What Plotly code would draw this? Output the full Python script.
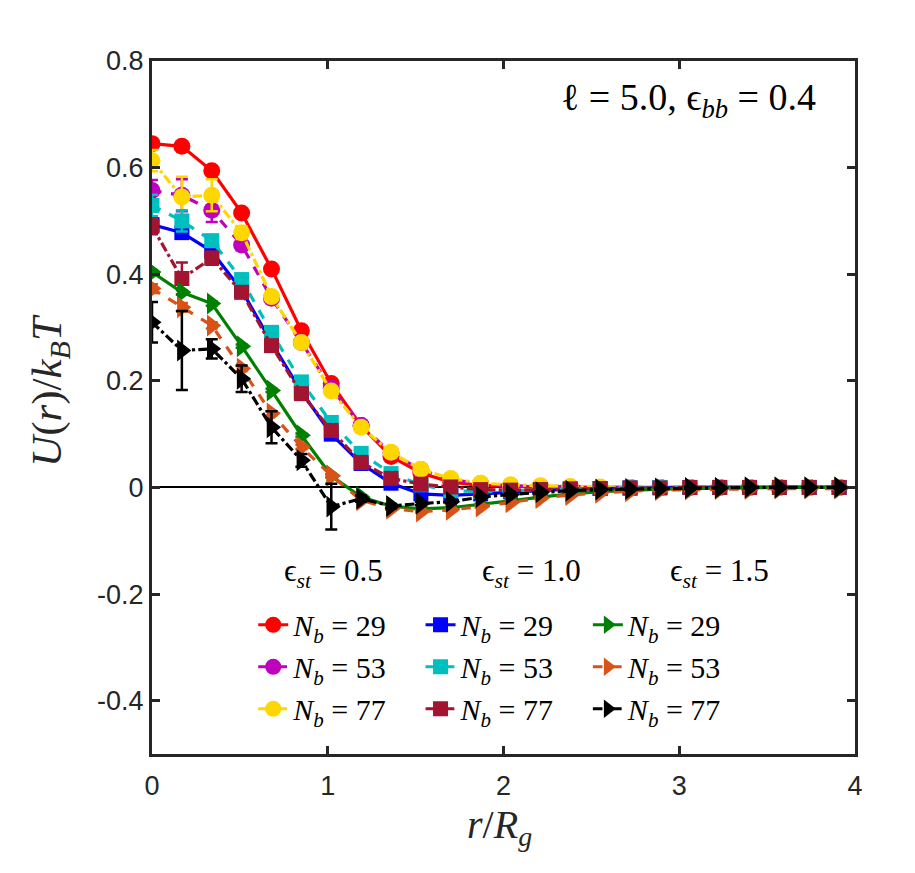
import plotly.graph_objects as go

# ---- data ----
r_over_Rg = [0, 0.17, 0.34, 0.51, 0.68, 0.85, 1.02, 1.19, 1.36, 1.53, 1.70, 1.87,
             2.04, 2.21, 2.38, 2.55, 2.72, 2.89, 3.06, 3.23, 3.40, 3.57, 3.74, 3.91]

# eps_st = 0.5
u_05_29 = [0.645, 0.640, 0.594, 0.515, 0.410, 0.294, 0.195, 0.116, 0.058, 0.027, 0.010, 0.004,
           0.002, 0.001, 0, 0, 0, 0, 0, 0, 0, 0, 0, 0]
u_05_53 = [0.557, 0.548, 0.520, 0.455, 0.355, 0.272, 0.186, 0.116, 0.065, 0.033, 0.015, 0.007,
           0.003, 0.002, 0.001, 0, 0, 0, 0, 0, 0, 0, 0, 0]
u_05_77 = [0.613, 0.545, 0.548, 0.478, 0.358, 0.272, 0.181, 0.113, 0.066, 0.034, 0.017, 0.008,
           0.005, 0.003, 0.002, 0.001, 0, 0, 0, 0, 0, 0, 0, 0]
# eps_st = 1.0
u_10_29 = [0.493, 0.478, 0.443, 0.370, 0.272, 0.180, 0.100, 0.045, 0.008, -0.012, -0.015, -0.012,
           -0.008, -0.005, -0.003, -0.002, -0.001, 0, 0, 0, 0, 0, 0, 0]
u_10_53 = [0.529, 0.500, 0.463, 0.390, 0.291, 0.198, 0.122, 0.064, 0.026, 0.005, -0.006, -0.008,
           -0.006, -0.004, -0.003, -0.002, -0.001, 0, 0, 0, 0, 0, 0, 0]
u_10_77 = [0.490, 0.392, 0.430, 0.366, 0.266, 0.176, 0.107, 0.047, 0.017, 0.006, 0.001, -0.004,
           -0.005, -0.004, -0.003, -0.002, -0.001, -0.001, 0, 0, 0, 0, 0, 0]
# eps_st = 1.5
u_15_29 = [0.404, 0.366, 0.345, 0.265, 0.182, 0.098, 0.022, -0.018, -0.035, -0.040, -0.038, -0.032,
           -0.025, -0.018, -0.012, -0.008, -0.005, -0.003, -0.002, -0.001, 0, 0, 0, 0]
u_15_53 = [0.373, 0.338, 0.304, 0.223, 0.139, 0.076, 0.022, -0.024, -0.040, -0.045, -0.042, -0.036,
           -0.028, -0.020, -0.014, -0.010, -0.007, -0.005, -0.004, -0.003, -0.003, -0.002, -0.002, -0.002]
u_15_77 = [0.310, 0.257, 0.260, 0.204, 0.113, 0.051, -0.036, -0.021, -0.035, -0.030, -0.027, -0.018,
           -0.013, -0.009, -0.006, -0.004, -0.003, -0.002, -0.001, -0.001, 0, 0, 0, 0]

# error bars
e_05_29 = [0.004, 0.004, 0.004, 0.003, 0.003, 0.003, 0.003, 0.002, 0.002, 0.002, 0.002, 0.002,
           0.002, 0.002, 0.002, 0.002, 0.002, 0.002, 0.002, 0.002, 0.002, 0.002, 0.002, 0.002]
e_05_53 = [0.020, 0.030, 0.022, 0.010, 0.006, 0.005, 0.004, 0.003, 0.003, 0.002, 0.002, 0.002,
           0.002, 0.002, 0.002, 0.002, 0.002, 0.002, 0.002, 0.002, 0.002, 0.002, 0.002, 0.002]
e_05_77 = [0.020, 0.038, 0.030, 0.012, 0.008, 0.005, 0.004, 0.003, 0.003, 0.002, 0.002, 0.002,
           0.002, 0.002, 0.002, 0.002, 0.002, 0.002, 0.002, 0.002, 0.002, 0.002, 0.002, 0.002]
e_10_29 = [0.004, 0.004, 0.004, 0.003, 0.003, 0.003, 0.003, 0.002, 0.002, 0.002, 0.002, 0.002,
           0.002, 0.002, 0.002, 0.002, 0.002, 0.002, 0.002, 0.002, 0.002, 0.002, 0.002, 0.002]
e_10_53 = [0.020, 0.020, 0.010, 0.006, 0.005, 0.004, 0.003, 0.003, 0.002, 0.002, 0.002, 0.002,
           0.002, 0.002, 0.002, 0.002, 0.002, 0.002, 0.002, 0.002, 0.002, 0.002, 0.002, 0.002]
e_10_77 = [0.015, 0.030, 0.012, 0.006, 0.005, 0.004, 0.003, 0.003, 0.002, 0.002, 0.002, 0.002,
           0.002, 0.002, 0.002, 0.002, 0.002, 0.002, 0.002, 0.002, 0.002, 0.002, 0.002, 0.002]
e_15_29 = [0.004, 0.004, 0.004, 0.003, 0.003, 0.003, 0.003, 0.002, 0.002, 0.002, 0.002, 0.002,
           0.002, 0.002, 0.002, 0.002, 0.002, 0.002, 0.002, 0.002, 0.002, 0.002, 0.002, 0.002]
e_15_53 = [0.008, 0.008, 0.006, 0.005, 0.004, 0.004, 0.003, 0.003, 0.002, 0.002, 0.002, 0.002,
           0.002, 0.002, 0.002, 0.002, 0.002, 0.002, 0.002, 0.002, 0.002, 0.002, 0.002, 0.002]
e_15_77 = [0.038, 0.074, 0.018, 0.025, 0.030, 0.012, 0.043, 0.006, 0.004, 0.003, 0.003, 0.002,
           0.002, 0.002, 0.002, 0.002, 0.002, 0.002, 0.002, 0.002, 0.002, 0.002, 0.002, 0.002]

eps_headers = ["ϵ<sub><i>st</i></sub> = 0.5", "ϵ<sub><i>st</i></sub> = 1.0", "ϵ<sub><i>st</i></sub> = 1.5"]
nb_labels = ["29", "53", "77"]
y_tickvals = [-0.4, -0.2, 0, 0.2, 0.4, 0.6, 0.8]
y_ticktext = ["-0.4", "-0.2", "0", "0.2", "0.4", "0.6", "0.8"]
x_tickvals = [0, 1, 2, 3, 4]

series = [
    (u_05_29, e_05_29, "#FF0000", "circle", "solid", "legend", "29"),
    (u_05_53, e_05_53, "#BF00BF", "circle", "dash", "legend", "53"),
    (u_05_77, e_05_77, "#FFD700", "circle", "dashdot", "legend", "77"),
    (u_10_29, e_10_29, "#0000FF", "square", "solid", "legend2", "29"),
    (u_10_53, e_10_53, "#00BFBF", "square", "dash", "legend2", "53"),
    (u_10_77, e_10_77, "#A2142F", "square", "dashdot", "legend2", "77"),
    (u_15_29, e_15_29, "#008000", "triangle-right", "solid", "legend3", "29"),
    (u_15_53, e_15_53, "#D95319", "triangle-right", "dash", "legend3", "53"),
    (u_15_77, e_15_77, "#000000", "triangle-right", "dashdot", "legend3", "77"),
]

fig = go.Figure()
for i, (y, e, col, sym, dash, leg, nb) in enumerate(series):
    size = 19 if sym == "triangle-right" else (15 if sym == "square" else 17)
    fig.add_trace(go.Scatter(
        x=r_over_Rg, y=y, mode="lines+markers",
        line=dict(color=col, width=3.2, dash=dash),
        marker=dict(symbol=sym, size=size, color=col, line=dict(width=0)),
        error_y=dict(type="data", array=e, visible=True, color=col, thickness=2.5, width=6),
        name="<i>N</i><sub><i>b</i></sub> = " + nb,
        legend=leg, legendgroup="g%d" % i,
    ))

serif = "Liberation Serif, DejaVu Serif, serif"
axis_common = dict(showline=True, linewidth=3, linecolor="#262626", mirror="ticks",
                   ticks="inside", ticklen=8, tickwidth=2.5, tickcolor="#262626",
                   showgrid=False, tickfont=dict(family="Liberation Sans, Arial, sans-serif",
                                                 size=27, color="#262626"))

fig.update_layout(
    width=915, height=873,
    margin=dict(l=152, r=60, t=61, b=119),
    paper_bgcolor="white", plot_bgcolor="white",
    xaxis=dict(range=[0, 4], tickvals=x_tickvals, zeroline=False,
               ticklabelstandoff=6, **axis_common),
    yaxis=dict(range=[-0.5, 0.8], tickvals=y_tickvals, ticktext=y_ticktext,
               zeroline=True, zerolinecolor="black", zerolinewidth=1.5, **axis_common),
    showlegend=True,
)

leg_common = dict(orientation="v", bgcolor="rgba(0,0,0,0)", borderwidth=0,
                  font=dict(family=serif, size=30, color="black"),
                  tracegroupgap=0, itemwidth=30, yanchor="top", xanchor="left")
fig.update_layout(
    legend=dict(x=0.144, y=0.224, **leg_common),
    legend2=dict(x=0.382, y=0.224, **leg_common),
    legend3=dict(x=0.620, y=0.224, **leg_common),
)

for xc, txt in zip([0.258, 0.540, 0.807], eps_headers):
    fig.add_annotation(x=xc, y=0.261, xref="paper", yref="paper", text=txt,
                       showarrow=False, xanchor="center", yanchor="middle",
                       font=dict(family=serif, size=31, color="black"))

fig.add_annotation(x=0.947, y=0.944, xref="paper", yref="paper",
                   text="ℓ = 5.0, ϵ<sub><i>bb</i></sub> = 0.4", showarrow=False,
                   xanchor="right", yanchor="middle",
                   font=dict(family=serif, size=38, color="black"))

# axis titles
fig.add_annotation(x=-0.145, y=0.524, xref="paper", yref="paper", textangle=-90,
                   text="<i>U</i>(<i>r</i>)/<i>k</i><sub><i>B</i></sub><i>T</i>",
                   showarrow=False, xanchor="center", yanchor="middle",
                   font=dict(family=serif, size=43, color="#262626"))
fig.add_annotation(x=0.495, y=-0.106, xref="paper", yref="paper",
                   text="<i>r</i>/<i>R</i><sub><i>g</i></sub>",
                   showarrow=False, xanchor="center", yanchor="middle",
                   font=dict(family=serif, size=40, color="#262626"))

fig.write_html("out.html")
